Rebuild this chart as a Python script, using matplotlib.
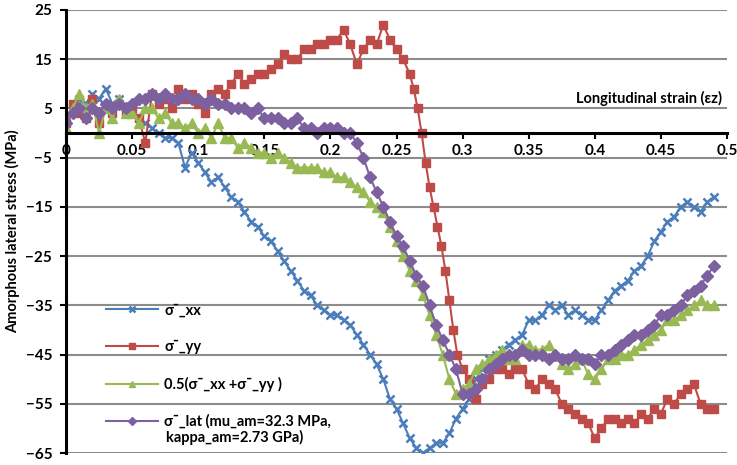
import numpy as np
import matplotlib
matplotlib.use("Agg")
import matplotlib.pyplot as plt
from matplotlib.ticker import FuncFormatter

plt.rcParams['font.family'] = ['Lato', 'DejaVu Sans']
plt.rcParams['font.weight'] = 'bold'

# strain values (shared by all series, spacing ~0.005)
strain = [0.000, 0.005, 0.010, 0.015, 0.020, 0.025, 0.030, 0.035, 0.040, 0.045,
          0.050, 0.055, 0.060, 0.065, 0.070, 0.075, 0.080, 0.085, 0.090, 0.095,
          0.100, 0.105, 0.110, 0.115, 0.120, 0.125, 0.130, 0.135, 0.140, 0.145,
          0.150, 0.155, 0.160, 0.165, 0.170, 0.175, 0.180, 0.185, 0.190, 0.195,
          0.200, 0.205, 0.210, 0.215, 0.220, 0.225, 0.230, 0.235, 0.240, 0.245,
          0.250, 0.255, 0.260, 0.265, 0.270, 0.275, 0.280, 0.285, 0.290, 0.295,
          0.300, 0.305, 0.310, 0.315, 0.320, 0.325, 0.330, 0.335, 0.340, 0.345,
          0.350, 0.355, 0.360, 0.365, 0.370, 0.375, 0.380, 0.385, 0.390, 0.395,
          0.400, 0.405, 0.410, 0.415, 0.420, 0.425, 0.430, 0.435, 0.440, 0.445,
          0.450, 0.455, 0.460, 0.465, 0.470, 0.475, 0.480, 0.485, 0.490]

sigma_xx = [3, 5, 7, 6, 8, 7, 9, 6, 7, 5,
            4, 3, 2, 1, 0, -1, -1, -2, -7, -4,
            -6, -8, -10, -9, -11, -13, -14, -16, -18, -19,
            -21, -22, -24, -26, -28, -30, -32, -33, -35, -36,
            -37, -37, -38, -39, -41, -43, -45, -47, -50, -54,
            -56, -59, -62, -64, -65, -64, -63, -63, -61, -58,
            -56, -54, -50, -48, -46, -45, -44, -43, -42, -41,
            -38, -38, -37, -35, -36, -35, -37, -36, -37, -38,
            -38, -36, -34, -32, -31, -30, -28, -27, -25, -22,
            -20, -18, -17, -15, -14, -15, -16, -14, -13]

# sigma_yy has a denser sampling through the steep drop
strain_yy = [0.000, 0.005, 0.010, 0.015, 0.020, 0.025, 0.030, 0.035, 0.040, 0.045,
             0.050, 0.055, 0.060, 0.065, 0.070, 0.075, 0.080, 0.085, 0.090, 0.095,
             0.100, 0.105, 0.110, 0.115, 0.120, 0.125, 0.130, 0.135, 0.140, 0.145,
             0.150, 0.155, 0.160, 0.165, 0.170, 0.175, 0.180, 0.185, 0.190, 0.195,
             0.200, 0.205, 0.210, 0.215, 0.220, 0.225, 0.230, 0.235, 0.240, 0.245,
             0.250, 0.255, 0.260, 0.263, 0.266, 0.269, 0.272, 0.275, 0.278, 0.281,
             0.284, 0.287, 0.290, 0.293, 0.296, 0.300, 0.305, 0.310, 0.315, 0.320,
             0.325, 0.330, 0.335, 0.340, 0.345, 0.350, 0.355, 0.360, 0.365, 0.370,
             0.375, 0.380, 0.385, 0.390, 0.395, 0.400, 0.405, 0.410, 0.415, 0.420,
             0.425, 0.430, 0.435, 0.440, 0.445, 0.450, 0.455, 0.460, 0.465, 0.470,
             0.475, 0.480, 0.485, 0.490]
sigma_yy = [2, 6, 4, 3, 7, 2, 5, 4, 6, 4,
            5, 3, -2, 8, 6, 7, 5, 9, 7, 8,
            6, 4, 8, 9, 8, 10, 12, 10, 11, 12,
            12, 13, 14, 16, 15, 15, 17, 17, 18, 18,
            19, 19, 21, 18, 14, 17, 19, 18, 22, 19,
            17, 15, 12, 9, 5, 0, -6, -11, -15, -19,
            -23, -28, -34, -40, -45, -48, -50, -54, -51, -50,
            -48, -48, -49, -48, -48, -51, -52, -50, -51, -52,
            -55, -56, -57, -58, -59, -62, -60, -58, -58, -59,
            -58, -59, -57, -58, -56, -57, -54, -55, -53, -52,
            -51, -55, -56, -56]

sigma_avg = [1, 5, 8, 5, 6, 0, 5, 3, 7, 4,
             4, 2, 5, 5, 3, 4, 2, 2, 1, 2,
             0, 1, -1, 2, -1, -1, -3, -2, -3, -4,
             -4, -5, -4, -5, -6, -7, -7, -7, -7, -8,
             -8, -9, -9, -10, -11, -12, -14, -15, -16, -19,
             -22, -25, -28, -30, -33, -37, -41, -45, -50, -53,
             -52, -51, -48, -47, -46, -45, -44, -46, -46, -43,
             -43, -44, -44, -43, -45, -47, -48, -47, -46, -49,
             -50, -48, -46, -46, -45, -45, -44, -43, -42, -41,
             -40, -38, -38, -37, -36, -35, -34, -35, -35]

sigma_lat = [2, 4, 5, 3, 5, 4, 6, 5, 6, 5,
             6, 7, 7, 8, 7, 8, 7, 7, 8, 7,
             7, 6, 7, 6, 6, 5, 5, 5, 4, 5,
             3, 3, 3, 2, 2, 3, 1, 1, 0, 1,
             1, 1, 0, 0, -2, -5, -9, -12, -15, -18,
             -21, -23, -26, -29, -31, -35, -39, -42, -45, -48,
             -53, -53, -52, -50, -48, -47, -46, -45, -45, -44,
             -45, -45, -45, -46, -45, -46, -46, -45, -46, -46,
             -47, -45, -45, -44, -43, -42, -41, -41, -40, -39,
             -37, -37, -36, -35, -33, -32, -31, -29, -27]

labels = ["σ¯_xx", "σ¯_yy", "0.5(σ¯_xx +σ¯_yy )",
          "σ¯_lat (mu_am=32.3 MPa,"]
label_tail = "kappa_am=2.73 GPa)"

fig = plt.figure(figsize=(7.37, 4.65), dpi=100)
ax = fig.add_axes([0.0896, 0.0258, 0.8968, 0.9527])

ax.plot(strain, sigma_xx, color="#4A7EBB", marker="x", markersize=6,
        markeredgewidth=1.8, linewidth=1.5, label=labels[0])
ax.plot(strain_yy, sigma_yy, color="#BE4B48", marker="s", markersize=6,
        linewidth=1.5, label=labels[1])
ax.plot(strain, sigma_avg, color="#98B954", marker="^", markersize=7,
        linewidth=1.5, label=labels[2])
ax.plot(strain, sigma_lat, color="#7D60A0", marker="D", markersize=6,
        linewidth=1.5, label=labels[3])

ax.set_xlim(0, 0.5)
ax.set_ylim(-65, 25)
ax.set_xticks(np.arange(0, 0.501, 0.05))
ax.set_yticks(np.arange(-65, 26, 10))
ax.xaxis.set_major_formatter(FuncFormatter(lambda v, p: f"{v:g}"))

ax.yaxis.grid(True, color="#8C8C8C", linewidth=1.5)
ax.set_axisbelow(True)

for s in ("top", "right"):
    ax.spines[s].set_visible(False)
ax.spines["bottom"].set_position(("data", 0))
ax.spines["bottom"].set_linewidth(2.2)
ax.spines["left"].set_linewidth(2.2)
ax.tick_params(axis="both", direction="out", length=4, width=1.5,
               labelsize=11)
ax.tick_params(axis="x", pad=4)
ax.tick_params(axis="y", pad=6)

ax.set_ylabel("Amorphous lateral stress (MPa)", fontsize=10.5,
              fontweight="bold", labelpad=4)
ax.text(0.992, 0.801, "Longitudinal strain (εz)", transform=ax.transAxes,
        ha="right", va="center", fontsize=10.5, fontweight="bold")

leg = ax.legend(loc="upper left", bbox_to_anchor=(0.06, 0.338), frameon=False,
                fontsize=10.5, handlelength=3.6, handletextpad=0.4,
                labelspacing=1.55, borderpad=0, borderaxespad=0,
                markerscale=0.7)
ax.text(0.1505, 0.034, label_tail, transform=ax.transAxes,
        ha="left", va="center", fontsize=10.5, fontweight="bold")

fig.savefig("out.png", dpi=100)
